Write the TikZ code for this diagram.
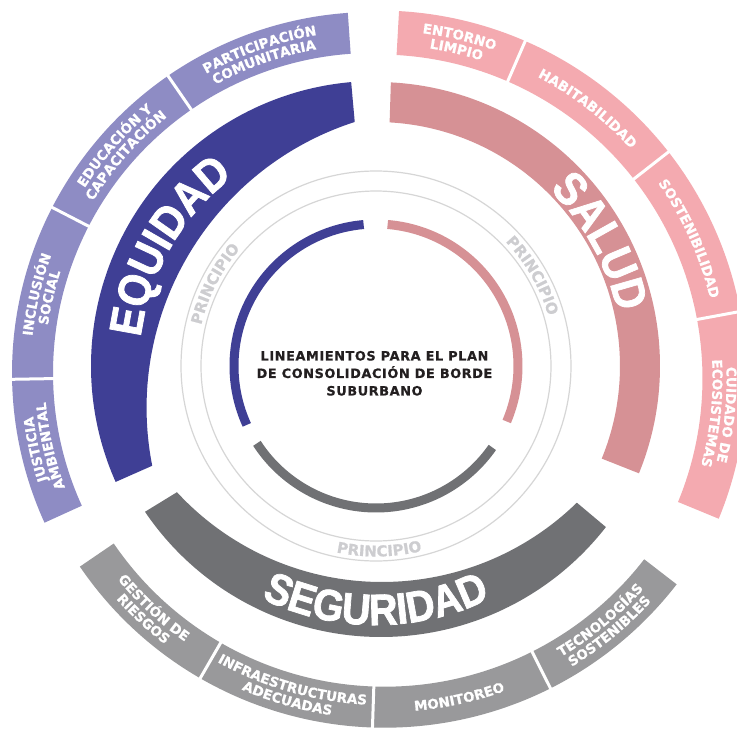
\documentclass[tikz,border=0pt]{standalone}
\usepackage{fontspec}
\usetikzlibrary{decorations.text}
\newfontfamily\djv{DejaVu Sans}[BoldFeatures={FakeBold=0.8}]
\newfontfamily\lib{Liberation Sans}[BoldFeatures={FakeBold=1.6, FakeStretch=0.9}]
\newfontfamily\ctrfont{DejaVu Sans}[LetterSpace=5, BoldFeatures={FakeBold=0.6}]
\definecolor{eqD}{HTML}{3F3F95}
\definecolor{eqL}{HTML}{8E8CC4}
\definecolor{saD}{HTML}{D69195}
\definecolor{saL}{HTML}{F4AAB0}
\definecolor{seD}{HTML}{707174}
\definecolor{seL}{HTML}{99999B}
\definecolor{thinc}{HTML}{D6D6D6}
\definecolor{prin}{HTML}{CDCDD0}
\definecolor{ctr}{HTML}{231F20}
\newcommand\segf{\fontsize{13.5}{15}\selectfont\djv\bfseries}
\newcommand\bandf{\fontsize{46}{48}\selectfont\lib\bfseries}
\newcommand\bandg{\fontsize{44}{46}\selectfont\lib\bfseries}
\newcommand\prinf{\fontsize{15}{17}\selectfont\djv\bfseries}
% #1 centre, #2 mid angle, #3 half span (positive: clockwise), #4 radius, #5 format, #6 text, #7 colour
\newcommand\arclab[7]{%
  \path[shift={#1}, decorate, decoration={text along path, text align=center, text color=#7, text={|#5|#6}}]
    ({#2+(#3)}:#4) arc[start angle={#2+(#3)}, end angle={#2-(#3)}, radius=#4];}
% annular sector: #1 centre, #2 a1, #3 a2, #4 r in, #5 r out, #6 colour
\newcommand\sector[6]{%
  \fill[#6, shift={#1}] (#2:#5) arc[start angle=#2, end angle=#3, radius=#5] -- (#3:#4) arc[start angle=#3, end angle=#2, radius=#4] -- cycle;}
\newcommand\sep[4]{%
  \draw[white, line width=3pt, shift={#1}] (#2:{#3-3}) -- (#2:{#4+3});}
\begin{document}
\begin{tikzpicture}[x=1pt,y=1pt, innerarc/.style={line width=9pt}]
\useasboundingbox (-376,-363) rectangle (361,366);
\fill[white] (-376,-363) rectangle (361,366);
% thin circles
\draw[thinc, line width=1.2pt] (0,0) circle[radius=175];
\draw[thinc, line width=1.2pt] (0,0) circle[radius=195];
% inner arcs
\draw[eqD, innerarc] (95:142) arc[start angle=95, end angle=204.5, radius=142];
\draw[saD, innerarc] (85.3:142) arc[start angle=85.3, end angle=-23, radius=142];
\draw[seD, innerarc] (213:142) arc[start angle=213, end angle=325, radius=142];
% bands
\fill[eqD] (95:285) arc[start angle=95, end angle=204, radius=285]
  -- ([shift={(71.1,-41.9)}]191.1:300.5) arc[start angle=191.1, end angle=107.9, radius=300.5] -- cycle;
\fill[saD] (87:284) arc[start angle=87, end angle=-22.2, radius=284]
  -- (-22.3:244) arc[start angle=-22.3, end angle=86.8, radius=244] -- cycle;
\fill[seD] ([shift={(5,14)}]214.1:285) arc[start angle=214.1, end angle=322.1, radius=285]
  -- ([shift={(6,63)}]314.3:279) arc[start angle=314.3, end angle=222.7, radius=279] -- cycle;
% band words
\arclab{(0,0)}{150}{50}{237}{\bandf}{EQUIDAD}{white}
\arclab{(0,0)}{29}{50}{247.5}{\bandf}{SALUD}{white}
\arclab{(0,0)}{270}{-50}{259}{\bandg}{SEGURIDAD}{white}
% outer rings
\sector{(-3,-7)}{94}{204.5}{320}{361}{eqL}
\sector{(2.5,-12.5)}{86.8}{-22.4}{324}{368}{saL}
\sector{(8.7,7.3)}{214.3}{322.3}{328}{369}{seL}
\sep{(-3,-7)}{124.6}{320}{361}
\sep{(-3,-7)}{152.7}{320}{361}
\sep{(-3,-7)}{181}{320}{361}
\sep{(2.5,-12.5)}{66.5}{324}{368}
\sep{(2.5,-12.5)}{38}{324}{368}
\sep{(2.5,-12.5)}{10.5}{324}{368}
\sep{(8.7,7.3)}{240}{328}{369}
\sep{(8.7,7.3)}{268.1}{328}{369}
\sep{(8.7,7.3)}{296.7}{328}{369}
% equidad labels
\arclab{(-3,-7)}{109.3}{30}{342.6}{\segf}{PARTICIPACIÓN}{white}
\arclab{(-3,-7)}{109.3}{30}{328.6}{\segf}{COMUNITARIA}{white}
\arclab{(-3,-7)}{138.65}{30}{342.6}{\segf}{EDUCACIÓN Y}{white}
\arclab{(-3,-7)}{138.65}{30}{328.6}{\segf}{CAPACITACIÓN}{white}
\arclab{(-3,-7)}{166.85}{30}{342.6}{\segf}{INCLUSIÓN}{white}
\arclab{(-3,-7)}{166.85}{30}{328.6}{\segf}{SOCIAL}{white}
\arclab{(-3,-7)}{192.75}{30}{342.6}{\segf}{JUSTICIA}{white}
\arclab{(-3,-7)}{192.75}{30}{328.6}{\segf}{AMBIENTAL}{white}
% salud labels
\arclab{(2.5,-12.5)}{76.65}{30}{348.1}{\segf}{ENTORNO}{white}
\arclab{(2.5,-12.5)}{76.65}{30}{334.1}{\segf}{LIMPIO}{white}
\arclab{(2.5,-12.5)}{52.25}{30}{341.1}{\segf}{HABITABILIDAD}{white}
\arclab{(2.5,-12.5)}{24.25}{30}{341.1}{\segf}{SOSTENIBILIDAD}{white}
\arclab{(2.5,-12.5)}{-5.95}{30}{348.1}{\segf}{CUIDADO DE}{white}
\arclab{(2.5,-12.5)}{-5.95}{30}{334.1}{\segf}{ECOSISTEMAS}{white}
% seguridad labels
\arclab{(8.7,7.3)}{227.15}{-30}{346.4}{\segf}{GESTIÓN DE}{white}
\arclab{(8.7,7.3)}{227.15}{-30}{360.4}{\segf}{RIESGOS}{white}
\arclab{(8.7,7.3)}{254.05}{-30}{346.4}{\segf}{INFRAESTRUCTURAS}{white}
\arclab{(8.7,7.3)}{254.05}{-30}{360.4}{\segf}{ADECUADAS}{white}
\arclab{(8.7,7.3)}{282.4}{-30}{353.4}{\segf}{MONITOREO}{white}
\arclab{(8.7,7.3)}{309.5}{-30}{346.4}{\segf}{TECNOLOGÍAS}{white}
\arclab{(8.7,7.3)}{309.5}{-30}{360.4}{\segf}{SOSTENIBLES}{white}
% principio
\arclab{(0,0)}{153}{30}{179.5}{\prinf}{PRINCIPIO}{prin}
\arclab{(0,0)}{30}{30}{179.5}{\prinf}{PRINCIPIO}{prin}
\arclab{(0,0)}{271}{-30}{190.5}{\prinf}{PRINCIPIO}{prin}
% centre
\node[font={\ctrfont\bfseries\fontsize{12.8}{17.5}\selectfont}, align=center, text=ctr, inner sep=0pt] (title) at (-1.5,-7.3) {LINEAMIENTOS PARA EL PLAN\\DE CONSOLIDACIÓN DE BORDE\\SUBURBANO};
\end{tikzpicture}
\end{document}
